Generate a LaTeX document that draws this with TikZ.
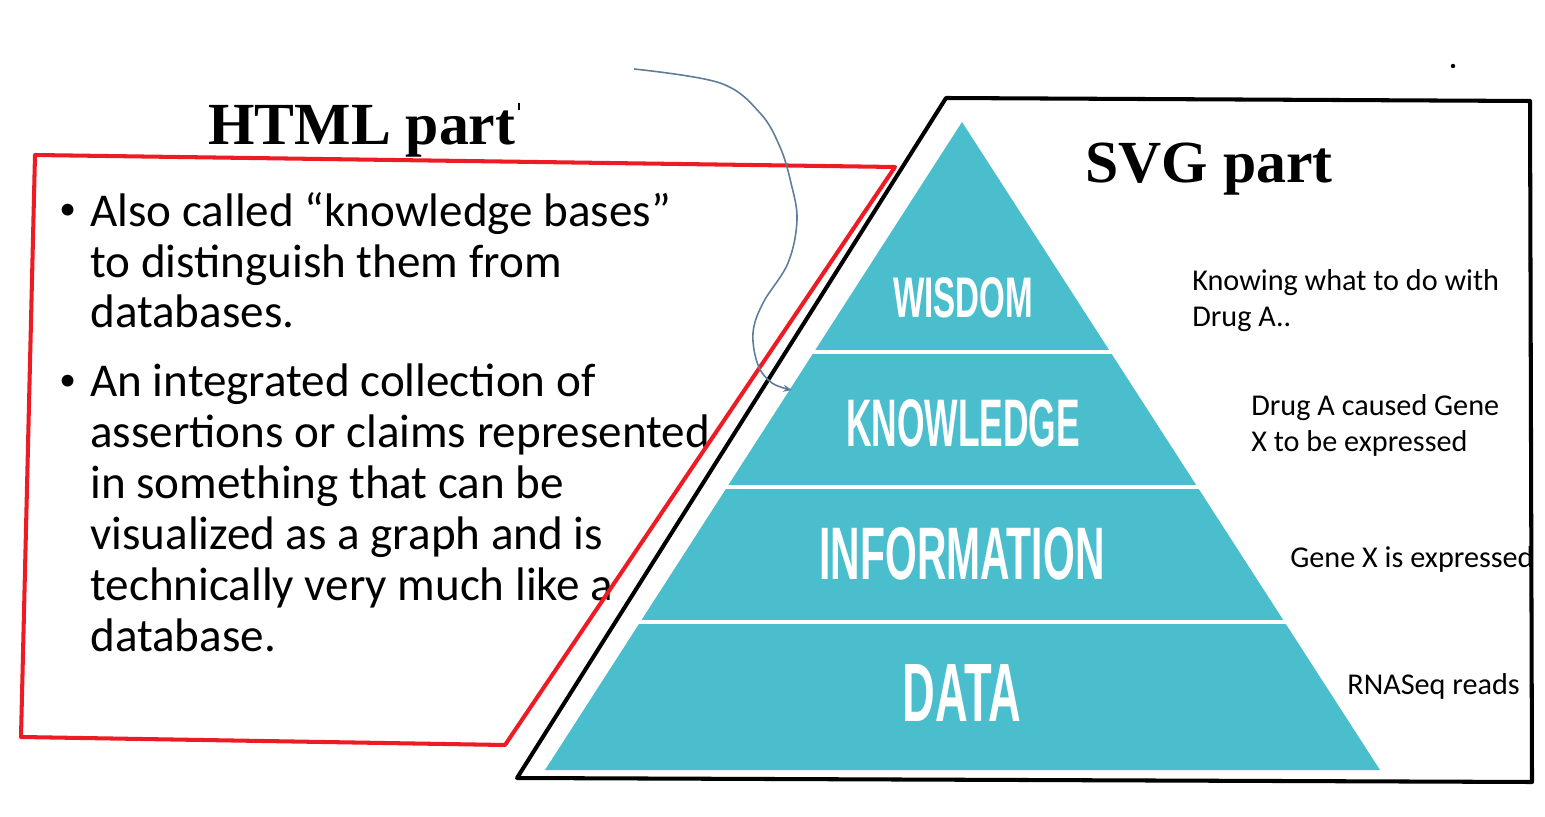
\documentclass[tikz,border=0pt]{standalone}
\usepackage{fontspec}
\setmainfont{Carlito}
\newfontfamily\titlefont{Liberation Serif}
\newfontfamily\layerfont{Liberation Sans}
\usepackage{graphicx}
\usepackage{xcolor}
\usepackage{tikz}
\usetikzlibrary{arrows.meta, positioning, calc}

\definecolor{pyrteal}{RGB}{75,190,205}
\definecolor{htmlred}{RGB}{237,28,36}
\definecolor{curveblue}{RGB}{95,125,155}

\newcommand{\layerlabel}[3]{\resizebox{#1}{#2}{\layerfont\bfseries #3}}

\tikzset{
  title/.style={anchor=base west, inner sep=0pt, font=\titlefont\bfseries\fontsize{34}{40}\selectfont},
  layer/.style={text=white, inner sep=0pt},
  note/.style={anchor=base west, inner sep=0pt, align=left, font=\fontsize{17.2}{21}\selectfont},
  bullettext/.style={anchor=base west, inner sep=0pt, align=left, font=\fontsize{26.8}{28.95}\selectfont},
  bulletmark/.style={anchor=base west, inner sep=0pt, font=\fontsize{19}{20}\selectfont},
  framepart/.style={line width=2.3pt, line join=round, line cap=round},
}

\begin{document}
\begin{tikzpicture}[x=0.02cm, y=-0.02cm]
    \useasboundingbox (0,0) rectangle (1545,817);

    % the pyramid
    \fill[pyrteal] (962,122) -- (1380,770) -- (545,770) -- cycle;
    \draw[white, line width=2.5pt] (811,352) -- (1113,352);
    \draw[white, line width=2.5pt] (724,487) -- (1200,487);
    \draw[white, line width=2.5pt] (637,622) -- (1287,622);

    \node[layer] (wisdom) at (963,298) {\layerlabel{2.8cm}{0.8cm}{WISDOM}};
    \node[layer] (knowledge) at (963,423) {\layerlabel{4.68cm}{0.94cm}{KNOWLEDGE}};
    \node[layer] (information) at (962,554) {\layerlabel{5.7cm}{1.04cm}{INFORMATION}};
    \node[layer] (data) at (962,693) {\layerlabel{2.38cm}{1.14cm}{DATA}};

    % notes beside each layer (base = last line)
    \node[note] (wisdomnote) at (1192,327) {Knowing what to do with\\Drug A..};
    \node[note] (knowledgenote) at (1251,452) {Drug A caused Gene\\X to be expressed};
    \node[note] (informationnote) at (1290,567) {Gene X is expressed};
    \node[note] (datanote) at (1347,694) {RNASeq reads};

    % titles
    \node[title] (htmltitle) at (208,145) {HTML part};
    \node[title] (svgtitle) at (1085,183) {SVG part};
    \fill (518,103) rectangle (520,110);
    \fill (1453,66) circle (2.2);

    % bullets
    \node[bulletmark] (bulletone) at (59,220) {\textbullet};
    \node[bullettext] (itemone) at (90,328) {Also called “knowledge bases”\\to distinguish them from\\databases.};
    \node[bulletmark] (bullettwo) at (59,391) {\textbullet};
    \node[bullettext] (itemtwo) at (90,651) {An integrated collection of\\assertions or claims represented\\in something that can be\\visualized as a graph and is\\technically very much like a\\database.};

    % frames
    \draw[framepart, htmlred] (35,155) -- (895,167) -- (505,745) -- (21,737) -- cycle;
    \draw[framepart, black] (517,778) -- (946,98) -- (1530,101) -- (1532,782) -- cycle;

    % hand drawn arrow
    \coordinate (curvestart) at (634,69);
    \coordinate (curveend) at (792,390);
    \draw[curveblue, line width=0.9pt, -{Stealth[length=5pt, width=4pt]}]
        plot[smooth, tension=0.6] coordinates {(curvestart) (720,83) (760,113) (780,147) (791,183) (797,220) (788,263) (763,303) (753,333) (758,365) (772,383) (curveend)};

\end{tikzpicture}
\end{document}
